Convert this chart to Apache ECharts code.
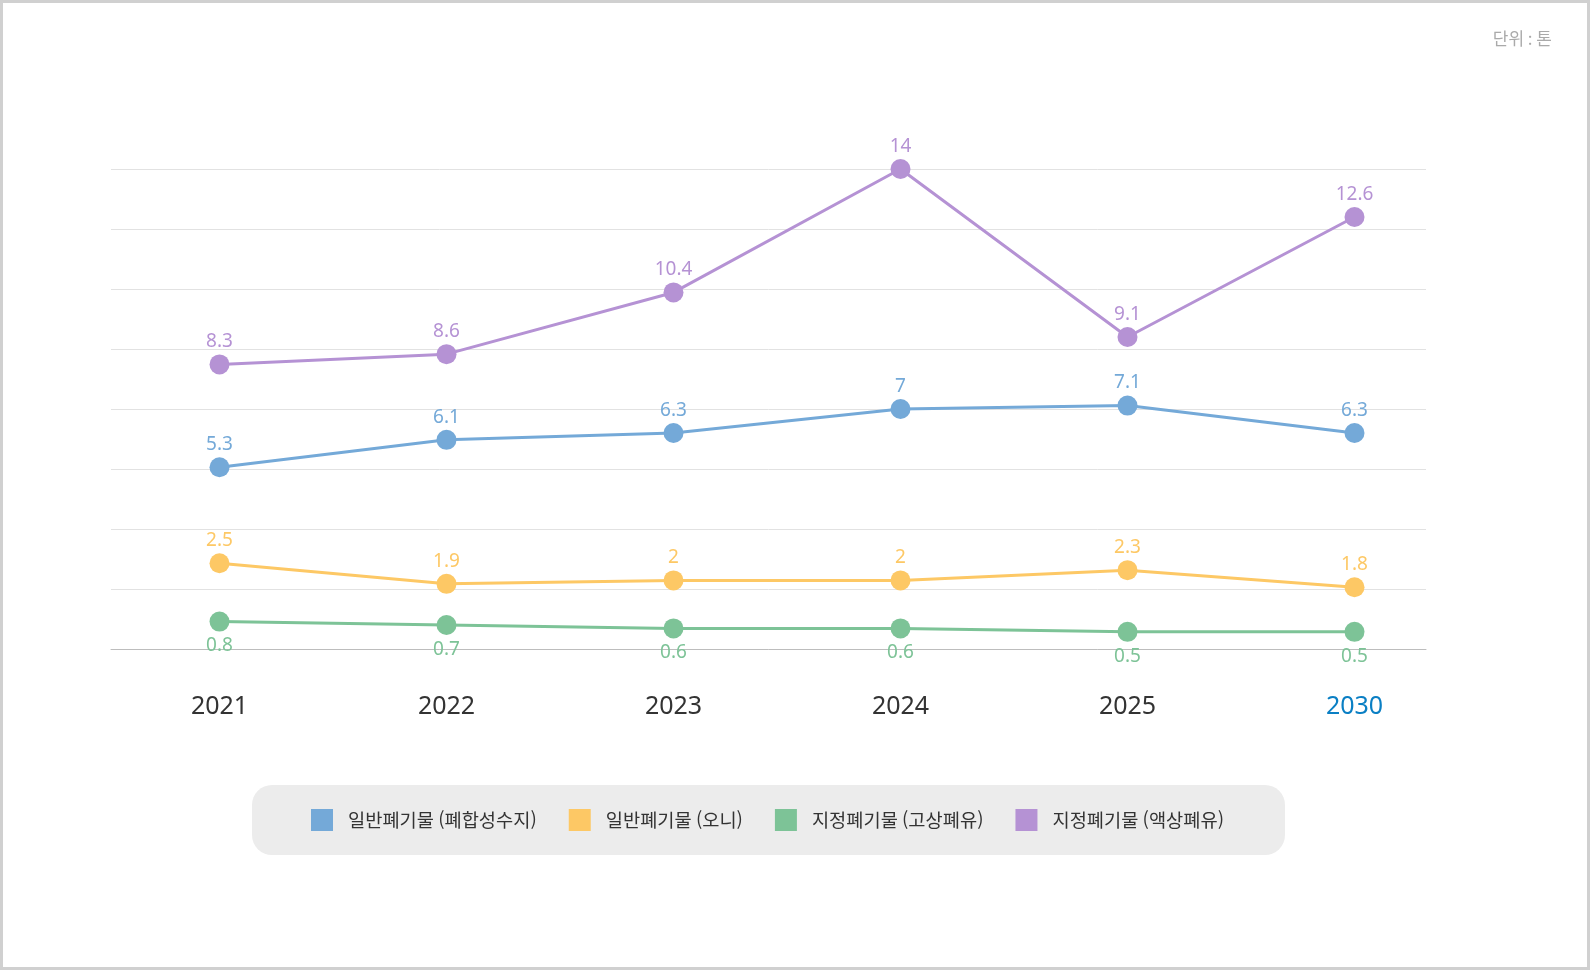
<!DOCTYPE html>
<html lang="ko">
<head>
<meta charset="utf-8">
<title>폐기물 발생량</title>
<script src="https://cdn.jsdelivr.net/npm/echarts@6/dist/echarts.min.js"></script>
<style>
  html, body { margin: 0; padding: 0; background: #fff; }
  #wrap { width: 1590px; height: 970px; box-sizing: border-box; border: 3px solid #d0d0d0; position: relative; }
  #chart { position: absolute; left: -3px; top: -3px; width: 1590px; height: 970px; }
</style>
</head>
<body>
<div id="wrap"><div id="chart"></div></div>
<script>
// 데이터
const years = ['2021', '2022', '2023', '2024', '2025', '2030'];
const seriesNames = ['일반폐기물 (폐합성수지)', '일반폐기물 (오니)', '지정폐기물 (고상폐유)', '지정폐기물 (액상폐유)'];
const plastic = [5.3, 6.1, 6.3, 7, 7.1, 6.3];
const sludge = [2.5, 1.9, 2, 2, 2.3, 1.8];
const solidOil = [0.8, 0.7, 0.6, 0.6, 0.5, 0.5];
const liquidOil = [8.3, 8.6, 10.4, 14, 9.1, 12.6];
const colors = ['#74a9d8', '#fdc865', '#7dc397', '#b592d4'];

const chart = echarts.init(document.getElementById('chart'));
const font = "'Noto Sans CJK KR', 'Noto Sans', sans-serif";
const numFont = "'Noto Sans', sans-serif";

function line(name, data, color, below) {
  return {
    name: name,
    type: 'line',
    xAxisIndex: 1,
    yAxisIndex: 1,
    data: data,
    symbol: 'circle',
    symbolSize: 20,
    lineStyle: { width: 3, color: color },
    itemStyle: { color: color },
    label: {
      show: true,
      position: below ? 'bottom' : 'top',
      distance: below ? 5 : 3,
      color: color,
      fontSize: 19,
      fontFamily: numFont
    },
    emphasis: { disabled: true },
    z: 3
  };
}

chart.setOption({
  animation: false,
  textStyle: { fontFamily: font },
  graphic: [
    {
      type: 'rect',
      shape: { x: 252, y: 785, width: 1033, height: 70, r: 20 },
      style: { fill: '#ececec' },
      z: -1
    },
    {
      type: 'text',
      right: 38,
      top: 30,
      style: { text: '단위 : 톤', fill: '#aaa', fontSize: 17, fontFamily: font }
    }
  ],
  legend: {
    left: 311,
    top: 809,
    padding: 0,
    itemWidth: 22,
    itemHeight: 22,
    itemGap: 32,
    icon: 'rect',
    data: seriesNames,
    selectedMode: false,
    textStyle: { color: '#333', fontSize: 18.7, fontFamily: font, padding: [0, 0, 0, 10] }
  },
  grid: [
    { left: 111, right: 164, top: 169, bottom: 321 },
    { left: 106, right: 122, top: 169, bottom: 321 }
  ],
  xAxis: [
    {
      gridIndex: 0,
      type: 'category',
      data: years,
      axisLine: { show: true, lineStyle: { color: '#bdbdbd', width: 1 } },
      axisTick: { show: false },
      axisLabel: { show: false },
      splitLine: { show: false }
    },
    {
      gridIndex: 1,
      type: 'category',
      data: years,
      axisLine: { show: false },
      axisTick: { show: false },
      axisLabel: {
        margin: 45,
        fontSize: 25,
        fontFamily: numFont,
        color: function (v) { return v === '2030' ? '#0a7fc4' : '#333'; }
      }
    }
  ],
  yAxis: [
    {
      gridIndex: 0,
      type: 'value',
      min: 0,
      max: 14,
      interval: 1.75,
      axisLabel: { show: false },
      axisLine: { show: false },
      axisTick: { show: false },
      splitLine: { lineStyle: { color: '#e2e2e2', width: 1 } }
    },
    {
      gridIndex: 1,
      type: 'value',
      min: 0,
      max: 14,
      interval: 1.75,
      show: false,
      splitLine: { show: false }
    }
  ],
  series: [
    line(seriesNames[0], plastic, colors[0], false),
    line(seriesNames[1], sludge, colors[1], false),
    line(seriesNames[2], solidOil, colors[2], true),
    line(seriesNames[3], liquidOil, colors[3], false)
  ]
});
</script>
</body>
</html>
